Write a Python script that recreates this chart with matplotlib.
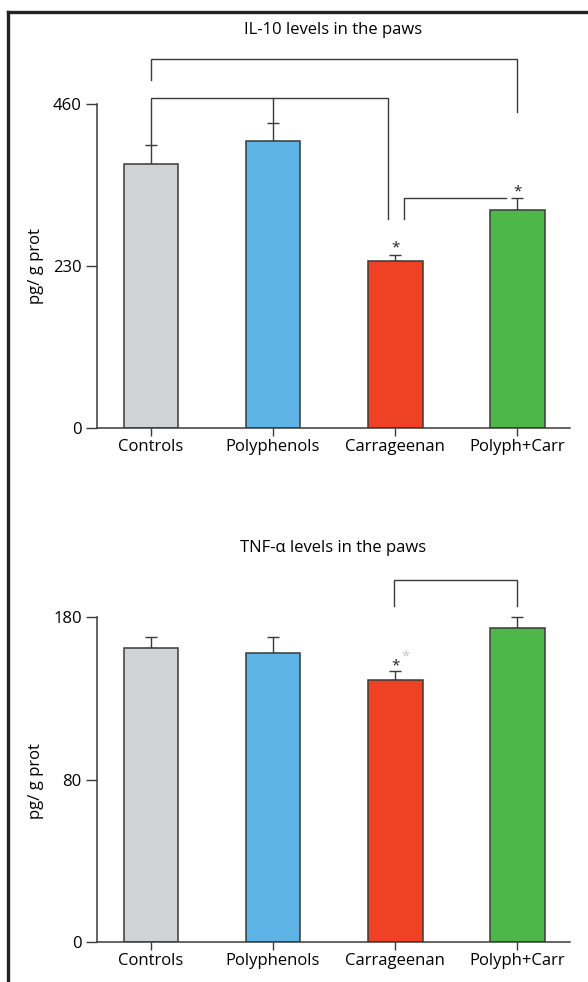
import matplotlib.pyplot as plt
from matplotlib.lines import Line2D
import numpy as np

plt.rcParams['font.family'] = ['Open Sans', 'DejaVu Sans']

groups = ["Controls", "Polyphenols", "Carrageenan", "Polyph+Carr"]
bar_colors = ["#d1d2d4", "#5db3e4", "#ef4123", "#4db848"]

# IL-10 (pg/ g prot)
il10_mean = [375, 407, 237, 310]
il10_sem = [27, 26, 9, 16]
il10_ticks = [0, 230, 460]
il10_ticklabels = ["0", "230", "460"]

# TNF-alpha (pg/ g prot) - the middle tick of the original is labelled 80
tnf_mean = [163, 160, 145, 174]
tnf_sem = [6, 9, 5, 6]
tnf_ticks = [0, 90, 180]
tnf_ticklabels = ["0", "80", "180"]

W, H = 588, 982
INK = "#3a3a3a"

fig = plt.figure(figsize=(W / 100, H / 100), dpi=100)


def axes_px(x0, x1, y_top, y_bot):
    return fig.add_axes([x0 / W, 1 - y_bot / H, (x1 - x0) / W, (y_bot - y_top) / H])


def draw_panel(ax, means, sems, ticks, ticklabels, ymax):
    x = np.arange(len(groups))
    ax.bar(x, means, width=0.45, color=bar_colors, edgecolor=INK, linewidth=1.1, zorder=2)
    ax.errorbar(x, means, yerr=[np.zeros(len(means)), sems], fmt="none",
                ecolor=INK, elinewidth=1.0, capsize=4, capthick=1.0, zorder=1)
    ax.set_xlim(-0.443, 3.434)
    ax.set_ylim(0, ymax)
    ax.set_xticks(x)
    ax.set_xticklabels(groups, fontsize=12)
    ax.set_yticks(ticks)
    ax.set_yticklabels(ticklabels, fontsize=12)
    for s in ["top", "right"]:
        ax.spines[s].set_visible(False)
    for s in ["left", "bottom"]:
        ax.spines[s].set_color(INK)
        ax.spines[s].set_linewidth(1.1)
    ax.spines["left"].set_bounds(0, ticks[-1])
    ax.tick_params(axis="y", length=8, width=1.0, color=INK, pad=3)
    ax.tick_params(axis="x", length=6, width=1.0, color=INK, pad=2)
    ax.patch.set_visible(False)


def bracket(ax, xs, ys):
    ax.plot(xs, ys, color=INK, lw=1.0, solid_joinstyle="miter", clip_on=False, zorder=3)


def star(ax, x, y, color="#222222"):
    ax.text(x, y, "*", ha="center", va="center", fontsize=11, color=color, zorder=4)


# top panel: IL-10
ax1 = axes_px(97, 570, 50, 428)
draw_panel(ax1, il10_mean, il10_sem, il10_ticks, il10_ticklabels, 460 * (428 - 50) / (428 - 104))
bracket(ax1, [0, 0, 3, 3], [494, 524, 524, 449])
bracket(ax1, [0, 0, 1.943, 1.943], [il10_mean[0] + il10_sem[0], 468.5, 468.5, 297])
bracket(ax1, [1, 1], [il10_mean[1] + il10_sem[1], 468.5])
bracket(ax1, [2.074, 2.074, 2.91], [297, 326.5, 326.5])
star(ax1, 2, 255)
star(ax1, 3, 335)

# bottom panel: TNF-alpha
ax2 = axes_px(97, 570, 570, 942)
draw_panel(ax2, tnf_mean, tnf_sem, tnf_ticks, tnf_ticklabels, 180 * (942 - 570) / (942 - 617))
bracket(ax2, [1.99, 1.99, 3, 3], [186.3, 200.5, 200.5, 186.3])
star(ax2, 2, 153)
star(ax2, 2.09, 158, color="#c8c8c8")

# titles and axis labels
fig.text(333.5 / W, 1 - 30 / H, "IL-10 levels in the paws", ha="center", va="center", fontsize=12)
fig.text(333.5 / W, 1 - 548 / H, "TNF-\u03b1 levels in the paws", ha="center", va="center", fontsize=12)
fig.text(36 / W, 1 - 266 / H, "pg/ g prot", rotation=90, ha="center", va="center", fontsize=12)
fig.text(36 / W, 1 - 781 / H, "pg/ g prot", rotation=90, ha="center", va="center", fontsize=12)

# frame on the left and top
fig.add_artist(Line2D([8 / W, 8 / W], [0, 1 - 12 / H], transform=fig.transFigure, lw=2.4, color="#222222"))
fig.add_artist(Line2D([8 / W, 1], [1 - 12 / H, 1 - 12 / H], transform=fig.transFigure, lw=2.4,
                      color="#222222", solid_capstyle="projecting"))

fig.savefig("out.png", dpi=100)
